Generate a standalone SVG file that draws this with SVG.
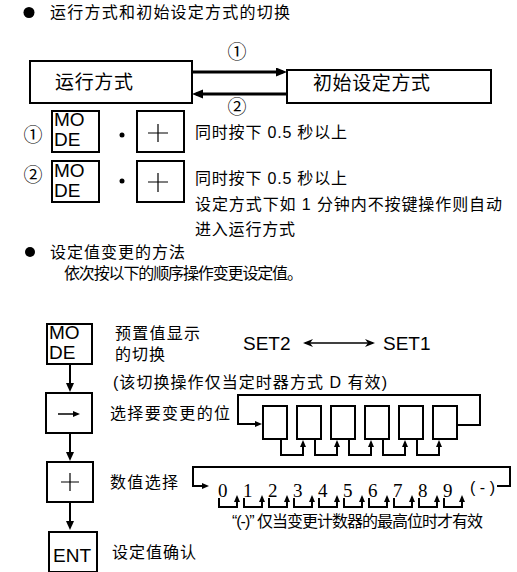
<svg xmlns="http://www.w3.org/2000/svg" width="517" height="572" viewBox="0 0 517 572">
<style>
.t{font-family:"Liberation Sans","Noto Sans CJK SC",sans-serif;font-size:16px;fill:#000}
.big{font-size:19px}
.cn{font-family:"Noto Sans CJK SC",sans-serif;font-size:19px;fill:#000}
.key{font-family:"Liberation Sans",sans-serif;font-size:19px;fill:#000}
.dg{font-family:"Liberation Serif",serif;font-size:19px;fill:#000}
.box{fill:#fff;stroke:#000;stroke-width:2}
.ln{fill:none;stroke:#000;stroke-width:2}
.thick{fill:none;stroke:#000;stroke-width:3}
.thin{fill:none;stroke:#000;stroke-width:1.2}
</style>
<defs>
<marker id="ah" markerUnits="userSpaceOnUse" markerWidth="12" markerHeight="10" refX="7" refY="4.5" orient="auto"><path d="M0,0 L11,4.5 L0,9 z"/></marker>
<marker id="am" markerUnits="userSpaceOnUse" markerWidth="10" markerHeight="9" refX="5" refY="4" orient="auto"><path d="M0,0 L9,4 L0,8 z"/></marker>
<marker id="as" markerUnits="userSpaceOnUse" markerWidth="8" markerHeight="7" refX="4" refY="3" orient="auto"><path d="M0,0 L7,3 L0,6 z"/></marker>
<marker id="ao" markerUnits="userSpaceOnUse" markerWidth="11" markerHeight="9" refX="8" refY="4" orient="auto-start-reverse"><path d="M0,0 L10,4 L0,8 L3,4 z"/></marker>
</defs>

<g id="title1">
<circle cx="29" cy="12.5" r="5.5"/>
<text class="t" x="50" y="18" textLength="240" lengthAdjust="spacing">运行方式和初始设定方式的切换</text>
</g>

<g id="run-mode">
<rect class="box" x="30" y="61" width="162" height="42"/>
<text class="t big" x="55" y="89" textLength="78" lengthAdjust="spacing">运行方式</text>
</g>
<g id="init-mode">
<rect class="box" x="287" y="70" width="204" height="33"/>
<text class="t big" x="313" y="90" textLength="117" lengthAdjust="spacing">初始设定方式</text>
</g>

<g id="connectors-top">
<line class="thick" x1="192" y1="72" x2="283" y2="72" marker-end="url(#ah)"/>
<line class="thick" x1="287" y1="94" x2="196" y2="94" marker-end="url(#ah)"/>
<text class="cn" x="237" y="59" text-anchor="middle">①</text>
<text class="cn" x="237" y="114" text-anchor="middle">②</text>
</g>

<g id="row1">
<text class="cn" x="33" y="142" text-anchor="middle">①</text>
<rect class="box" x="52" y="111" width="47" height="41"/>
<text class="key" x="54" y="125.5">MO</text>
<text class="key" x="54" y="145.5">DE</text>
<circle cx="122" cy="135" r="2.5"/>
<rect class="box" x="137" y="111" width="47" height="41"/>
<path class="thin" d="M148,133 H168 M158,124 V142"/>
<text class="t" x="195" y="138" textLength="152" lengthAdjust="spacing">同时按下 0.5 秒以上</text>
</g>

<g id="row2">
<text class="cn" x="33" y="182" text-anchor="middle">②</text>
<rect class="box" x="52" y="161" width="47" height="41"/>
<text class="key" x="54" y="177">MO</text>
<text class="key" x="54" y="197">DE</text>
<circle cx="122" cy="181" r="2.5"/>
<rect class="box" x="137" y="161" width="47" height="41"/>
<path class="thin" d="M148,182 H168 M158,173 V192"/>
<text class="t" x="195" y="184" textLength="152" lengthAdjust="spacing">同时按下 0.5 秒以上</text>
<text class="t" x="195" y="210" textLength="307" lengthAdjust="spacing">设定方式下如 1 分钟内不按键操作则自动</text>
<text class="t" x="195" y="235" textLength="100" lengthAdjust="spacing">进入运行方式</text>
</g>

<g id="title2">
<circle cx="30" cy="252" r="5"/>
<text class="t" x="50" y="258" textLength="135" lengthAdjust="spacing">设定值变更的方法</text>
<text class="t" x="64" y="279" textLength="239" lengthAdjust="spacing">依次按以下的顺序操作变更设定值。</text>
</g>

<g id="mode-key">
<rect class="box" x="47" y="324" width="45" height="40"/>
<text class="key" x="49" y="339">MO</text>
<text class="key" x="49" y="359">DE</text>
<text class="t" x="115" y="339" textLength="85" lengthAdjust="spacing">预置值显示</text>
<text class="t" x="115" y="360" textLength="50" lengthAdjust="spacing">的切换</text>
<text class="t" x="113" y="388" textLength="274" lengthAdjust="spacing">(该切换操作仅当定时器方式 D 有效)</text>
<text class="key" x="243" y="350">SET2</text>
<text class="key" x="383" y="350">SET1</text>
</g>

<g id="shift-key">
<rect class="box" x="46" y="393" width="46" height="40"/>
<line x1="58" y1="414" x2="77" y2="414" stroke="#000" stroke-width="1.5" marker-end="url(#as)"/>
<text class="t" x="110" y="419" textLength="120" lengthAdjust="spacing">选择要变更的位</text>
</g>

<g id="digit-boxes">
<rect class="box" x="263" y="406" width="24" height="33"/>
<rect class="box" x="297" y="406" width="24" height="33"/>
<rect class="box" x="331" y="406" width="24" height="33"/>
<rect class="box" x="365" y="406" width="24" height="33"/>
<rect class="box" x="399" y="406" width="24" height="33"/>
<rect class="box" x="433" y="406" width="24" height="33"/>
</g>

<g id="plus-key">
<rect class="box" x="47" y="462" width="46" height="40"/>
<path class="thin" d="M61,482 H79 M70,473 V491"/>
<text class="t" x="110" y="488" textLength="68" lengthAdjust="spacing">数值选择</text>
</g>

<g id="digits">
<text class="dg" x="218" y="497">0</text>
<text class="dg" x="243" y="497">1</text>
<text class="dg" x="268" y="497">2</text>
<text class="dg" x="293" y="497">3</text>
<text class="dg" x="318" y="497">4</text>
<text class="dg" x="343" y="497">5</text>
<text class="dg" x="368" y="497">6</text>
<text class="dg" x="393" y="497">7</text>
<text class="dg" x="418" y="497">8</text>
<text class="dg" x="443" y="497">9</text>
<text class="t" x="470" y="493" font-size="14" textLength="25" lengthAdjust="spacing">( - )</text>
<text class="t" x="232" y="527" font-size="14" textLength="251" lengthAdjust="spacing">“(-)” 仅当变更计数器的最高位时才有效</text>
</g>

<g id="ent-key">
<rect class="box" x="49" y="532" width="48" height="40"/>
<text class="key" x="53" y="562">ENT</text>
<text class="t" x="112" y="558" textLength="84" lengthAdjust="spacing">设定值确认</text>
</g>

<g id="connectors">
<line class="ln" x1="70" y1="364" x2="70" y2="388" stroke-width="2.5" marker-end="url(#am)"/>
<line class="ln" x1="70" y1="433" x2="70" y2="457" stroke-width="2.5" marker-end="url(#am)"/>
<line class="ln" x1="70" y1="502" x2="70" y2="526" stroke-width="2.5" marker-end="url(#am)"/>
<line x1="305" y1="343" x2="373" y2="343" stroke="#000" stroke-width="1.5" marker-start="url(#ao)" marker-end="url(#ao)"/>
<path class="ln" d="M457,425 H480 V395 H238 V424 H259" marker-end="url(#as)"/>
<path class="ln" d="M281,439 V455 H303 V443" marker-end="url(#as)"/>
<path class="ln" d="M315,439 V455 H337 V443" marker-end="url(#as)"/>
<path class="ln" d="M349,439 V455 H371 V443" marker-end="url(#as)"/>
<path class="ln" d="M383,439 V455 H405 V443" marker-end="url(#as)"/>
<path class="ln" d="M417,439 V455 H439 V443" marker-end="url(#as)"/>
<path class="ln" d="M497,486 H510 V467 H193 V486 H206" marker-end="url(#as)"/>
<path class="ln" d="M219,498 V507 H237 V498" marker-end="url(#as)"/>
<path class="ln" d="M244,498 V507 H262 V498" marker-end="url(#as)"/>
<path class="ln" d="M269,498 V507 H287 V498" marker-end="url(#as)"/>
<path class="ln" d="M294,498 V507 H312 V498" marker-end="url(#as)"/>
<path class="ln" d="M319,498 V507 H337 V498" marker-end="url(#as)"/>
<path class="ln" d="M344,498 V507 H362 V498" marker-end="url(#as)"/>
<path class="ln" d="M369,498 V507 H387 V498" marker-end="url(#as)"/>
<path class="ln" d="M394,498 V507 H412 V498" marker-end="url(#as)"/>
<path class="ln" d="M419,498 V507 H437 V498" marker-end="url(#as)"/>
<path class="ln" d="M444,498 V507 H462 V498" marker-end="url(#as)"/>
</g>
</svg>
